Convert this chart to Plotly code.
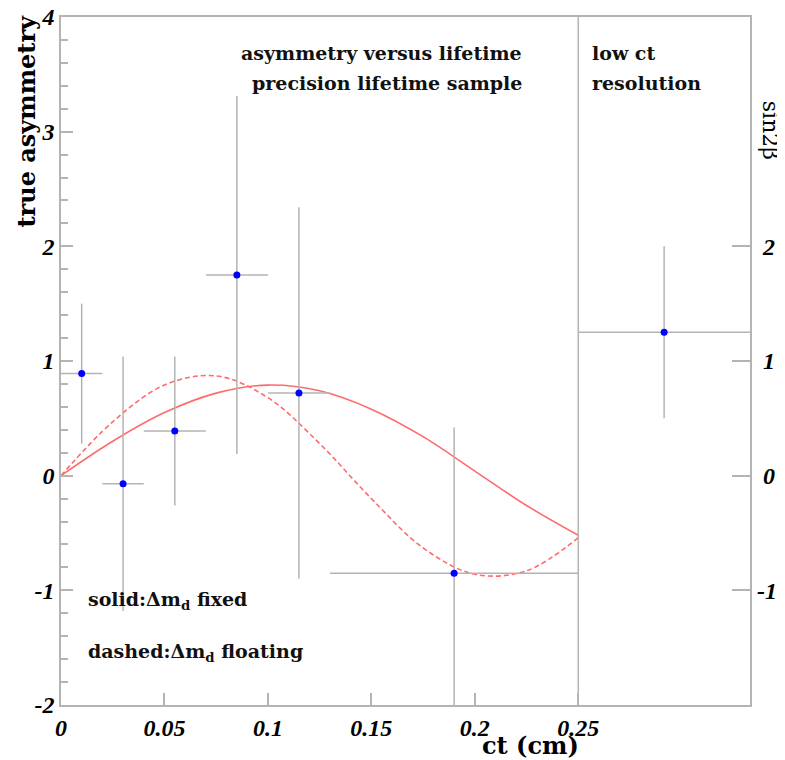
import plotly.graph_objects as go

# measured points (ct bins) with errors
ct = [0.01, 0.03, 0.055, 0.085, 0.115, 0.19, 0.2915]
ct_err = [0.01, 0.01, 0.015, 0.015, 0.015, 0.06, 0.0415]
asym = [0.89, -0.07, 0.39, 1.75, 0.72, -0.85, 1.25]
asym_err = [0.61, 1.11, 0.65, 1.56, 1.62, 1.27, 0.75]

# fit curves
curve_x = [0, 0.025, 0.05, 0.075, 0.1, 0.125, 0.15, 0.175, 0.2, 0.225, 0.25]
solid_y = [0, 0.30, 0.55, 0.72, 0.79, 0.74, 0.58, 0.34, 0.04, -0.26, -0.52]
dashed_y = [0, 0.47, 0.79, 0.87, 0.68, 0.28, -0.20, -0.63, -0.86, -0.83, -0.54]

x_ticks = [0, 0.05, 0.1, 0.15, 0.2, 0.25]
x_labels = ["0", "0.05", "0.1", "0.15", "0.2", "0.25"]
y_ticks = [-2, -1, 0, 1, 2, 3, 4]
y_labels = ["-2", "-1", "0", "1", "2", "3", "4"]
y2_ticks = [-1, 0, 1, 2]
# right-hand labels are right aligned, pad the single digits
y2_labels = ["-1", "\u20080", "\u20081", "\u20082"]

GREY = "#b4b4b4"
RED = "#ff6b6b"
tickfont = dict(family="Liberation Serif", size=24, color="black", weight="bold", style="italic")
txtfont = dict(family="DejaVu Serif", size=19, color="#111111", weight="bold")

fig = go.Figure()

fig.add_trace(go.Scatter(
    x=curve_x, y=solid_y, mode="lines", line=dict(color=RED, width=1.6, shape="spline"),
    showlegend=False, hoverinfo="skip"
))
fig.add_trace(go.Scatter(
    x=curve_x, y=dashed_y, mode="lines", line=dict(color=RED, width=1.6, shape="spline", dash="5px,3px"),
    showlegend=False, hoverinfo="skip"
))
fig.add_trace(go.Scatter(
    x=ct, y=asym, mode="markers",
    marker=dict(color="#0000ff", size=7),
    error_x=dict(type="data", array=ct_err, color=GREY, thickness=1.5, width=0),
    error_y=dict(type="data", array=asym_err, color=GREY, thickness=1.5, width=0),
    showlegend=False
))

# boundary between precision sample and low ct resolution
fig.add_shape(type="line", x0=0.25, x1=0.25, y0=0, y1=1, xref="x", yref="paper",
              line=dict(color=GREY, width=1.5))

annos = [
    dict(text="asymmetry versus lifetime", x=0.2238, y=0.948, xanchor="right"),
    dict(text="precision lifetime sample", x=0.2238, y=0.904, xanchor="right"),
    dict(text="low ct", x=0.2557, y=0.948, xanchor="left"),
    dict(text="resolution", x=0.2557, y=0.904, xanchor="left"),
]
for a in annos:
    fig.add_annotation(showarrow=False, font=txtfont, xref="x", yref="paper", yanchor="middle", **a)

fig.add_annotation(text="solid:Δm<sub>d</sub> fixed", x=0.012, y=-1.09, xref="x", yref="y",
                   xanchor="left", yanchor="middle", showarrow=False, font=txtfont)
fig.add_annotation(text="dashed:Δm<sub>d</sub> floating", x=0.012, y=-1.54, xref="x", yref="y",
                   xanchor="left", yanchor="middle", showarrow=False, font=txtfont)

# axis titles
fig.add_annotation(text="true asymmetry", xref="paper", yref="paper", x=0, y=1,
                   xshift=-35, yshift=4, xanchor="center", yanchor="top", textangle=-90, showarrow=False,
                   font=dict(family="DejaVu Serif", size=24, color="black", weight="bold"))
fig.add_annotation(text="sin2β", xref="paper", yref="paper", x=1, y=0.836,
                   xshift=20, xanchor="center", yanchor="middle", textangle=90, showarrow=False,
                   font=dict(family="DejaVu Serif", size=22, color="black"))
fig.add_annotation(text="ct (cm)", xref="x", yref="paper", x=0.2267, y=0,
                   yshift=-40, xanchor="center", yanchor="middle", showarrow=False,
                   font=dict(family="DejaVu Serif", size=24, color="black", weight="bold"))

# page body has an 8px margin, so the figure is offset to land the axes in place
fig.update_layout(
    width=777, height=752,
    margin=dict(l=53, r=35, t=9, b=55),
    paper_bgcolor="white", plot_bgcolor="white",
    xaxis=dict(
        range=[0, 0.333], showgrid=False, zeroline=False, automargin=False,
        showline=True, linecolor=GREY, linewidth=1.5, mirror=True,
        ticks="inside", ticklen=12, tickcolor=GREY, tickwidth=1.5,
        tickvals=x_ticks, ticktext=x_labels, tickfont=tickfont,
        ticklabeloverflow="allow",
    ),
    yaxis=dict(
        range=[-2, 4], showgrid=False, zeroline=False, automargin=False,
        showline=True, linecolor=GREY, linewidth=1.5, mirror=True,
        ticks="inside", ticklen=12, tickcolor=GREY, tickwidth=1.5,
        tickvals=y_ticks, ticktext=y_labels, tickfont=tickfont,
        ticklabeloverflow="allow",
        minor=dict(dtick=0.2, ticks="inside", ticklen=7, tickcolor=GREY, tickwidth=1.5),
    ),
    yaxis2=dict(
        range=[-2, 4], overlaying="y", side="right", showgrid=False, zeroline=False,
        automargin=False,
        ticks="inside", ticklen=18, tickcolor=GREY, tickwidth=1.5,
        tickvals=y2_ticks, ticktext=y2_labels, tickfont=tickfont,
        ticklabelstandoff=6, ticklabeloverflow="allow",
    ),
)
# invisible trace so the right axis is drawn
fig.add_trace(go.Scatter(x=[0], y=[0], yaxis="y2", mode="markers",
                         marker=dict(opacity=0), showlegend=False, hoverinfo="skip"))

fig.write_html("out.html")
